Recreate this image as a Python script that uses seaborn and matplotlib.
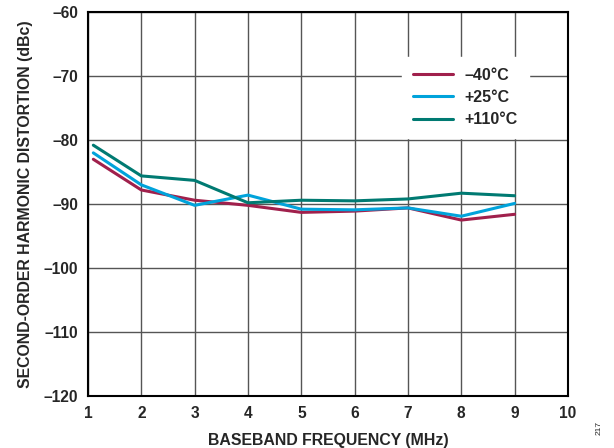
import pandas as pd
import seaborn as sns
import matplotlib.pyplot as plt

# Data
freq = [1.1, 2, 3, 4, 5, 6, 7, 8, 9]
hd2_m40 = [-83.0, -87.8, -89.4, -90.2, -91.3, -91.1, -90.6, -92.5, -91.6]
hd2_p25 = [-82.0, -87.0, -90.2, -88.6, -90.8, -90.9, -90.6, -91.9, -89.9]
hd2_p110 = [-80.8, -85.6, -86.3, -89.8, -89.4, -89.5, -89.2, -88.3, -88.7]
labels = ['\u201340°C', '+25°C', '+110°C']
colors = ['#A0204C', '#00A3DB', '#007A72']

df = pd.concat([
    pd.DataFrame({'freq': freq, 'hd2': vals, 'temp': lab})
    for vals, lab in zip([hd2_m40, hd2_p25, hd2_p110], labels)
])

sns.set_style('white')
plt.rcParams['font.family'] = ['Liberation Sans', 'DejaVu Sans']
plt.rcParams['font.weight'] = 'bold'

fig = plt.figure(figsize=(6.14, 4.48), dpi=100)
ax = fig.add_axes([0.1433, 0.116, 0.7817, 0.857])

sns.lineplot(data=df, x='freq', y='hd2', hue='temp', palette=colors,
             hue_order=labels, linewidth=2.2, ax=ax, sort=False)

ax.set_xlim(1, 10)
ax.set_ylim(-120, -60)
ax.set_xticks(range(1, 11))
ax.set_yticks(range(-120, -59, 10))
ax.set_yticklabels(['\u2013' + str(abs(v)) for v in range(-120, -59, 10)])
ax.grid(True, color='#555555', linewidth=1.0)
ax.set_axisbelow(True)
for s in ax.spines.values():
    s.set_color('black')
    s.set_linewidth(1.5)
ax.tick_params(axis='both', labelsize=11.2, length=0, pad=7)
for t in ax.get_xticklabels() + ax.get_yticklabels():
    t.set_fontweight('bold')

ax.set_xlabel('BASEBAND FREQUENCY (MHz)', fontsize=11.4, fontweight='bold', labelpad=9)
ax.set_ylabel('SECOND-ORDER HARMONIC DISTORTION (dBc)', fontsize=11.4, fontweight='bold', labelpad=8)

leg = ax.legend(loc='upper right', bbox_to_anchor=(0.935, 0.905), frameon=True,
                fancybox=False, edgecolor='white', framealpha=1.0,
                fontsize=11.5, handlelength=2.5, handletextpad=0.7,
                labelspacing=0.45, borderpad=0.7)
for t in leg.get_texts():
    t.set_fontweight('bold')

fig.text(0.975, 0.045, '217', rotation=90, fontsize=6, fontweight='normal',
         ha='center', va='center')

fig.savefig('out.png', dpi=100)
